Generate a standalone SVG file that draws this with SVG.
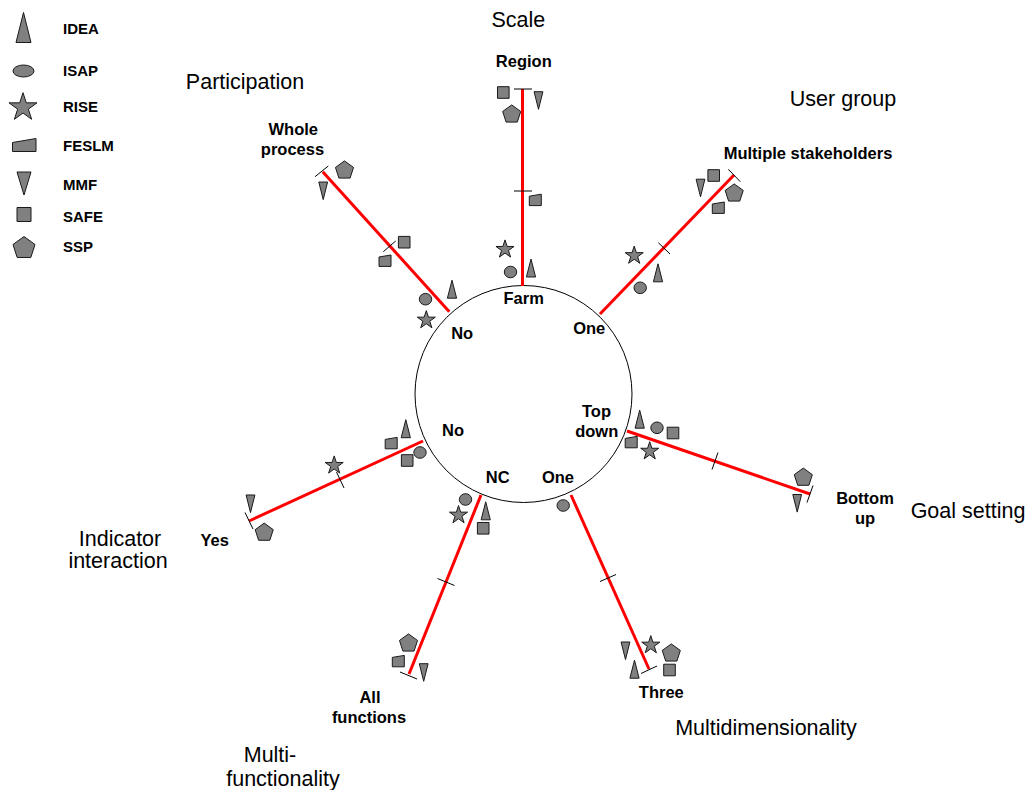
<svg xmlns="http://www.w3.org/2000/svg" width="1027" height="790" viewBox="0 0 1027 790">
  <style>
    .m { fill: #808080; stroke: #1a1a1a; stroke-width: 1; vector-effect: non-scaling-stroke; }
    .arm { stroke: #ff0000; stroke-width: 3; fill: none; }
    .tick { stroke: #000; stroke-width: 1; }
    .lab { font-family: "Liberation Sans", Arial, sans-serif; font-weight: bold; font-size: 16.5px; fill: #000; text-anchor: middle; }
    .cat { font-family: "Liberation Sans", Arial, sans-serif; font-size: 21.5px; fill: #000; text-anchor: middle; }
    .leg { font-family: "Liberation Sans", Arial, sans-serif; font-weight: bold; font-size: 15px; fill: #000; }
  </style>
  <defs>
    <polygon id="idea" class="m" points="0,-9 4.6,9 -4.6,9"/>
    <ellipse id="isap" class="m" cx="0" cy="0" rx="6.2" ry="5.8"/>
    <polygon id="rise" class="m" points="0,-8.6 2.134,-2.04 9.035,-2.04 3.452,2.02 5.584,8.59 0,4.53 -5.584,8.59 -3.452,2.02 -9.035,-2.04 -2.134,-2.04"/>
    <polygon id="feslm" class="m" points="-6,-3.8 6,-5.8 6,5.6 -6,5.6"/>
    <polygon id="mmf" class="m" points="-4.4,-8.8 4.4,-8.8 0,8.8"/>
    <rect id="safe" class="m" x="-5.8" y="-5.8" width="11.6" height="11.6"/>
    <polygon id="ssp" class="m" points="0,-8.6 9.035,-2.04 5.584,8.59 -5.584,8.59 -9.035,-2.04"/>
  </defs>

  <rect width="1027" height="790" fill="#fff"/>

  <!-- Legend -->
  <g id="legend">
    <g id="legend-idea">
      <polygon class="m" points="23.5,12.5 31,42.5 16,42.5"/>
      <text class="leg" x="63" y="34">IDEA</text>
    </g>
    <g id="legend-isap">
      <ellipse class="m" cx="23.5" cy="71" rx="10.5" ry="6"/>
      <text class="leg" x="63" y="76">ISAP</text>
    </g>
    <g id="legend-rise">
      <use href="#rise" transform="translate(23,106) scale(1.55)"/>
      <text class="leg" x="63" y="112">RISE</text>
    </g>
    <g id="legend-feslm">
      <polygon class="m" points="12.5,142.5 36,138.5 36,151.5 12.5,151.5"/>
      <text class="leg" x="63" y="151">FESLM</text>
    </g>
    <g id="legend-mmf">
      <polygon class="m" points="17,172 31,172 24,195"/>
      <text class="leg" x="63" y="190">MMF</text>
    </g>
    <g id="legend-safe">
      <rect class="m" x="17" y="207.5" width="14" height="14"/>
      <text class="leg" x="63" y="222">SAFE</text>
    </g>
    <g id="legend-ssp">
      <use href="#ssp" transform="translate(24,247) scale(1.22)"/>
      <text class="leg" x="63" y="252">SSP</text>
    </g>
  </g>

  <!-- Central circle -->
  <g id="hub">
    <circle cx="523.5" cy="394" r="108.5" fill="none" stroke="#000" stroke-width="1"/>
    <text class="lab" x="523.7" y="304">Farm</text>
    <text class="lab" x="589.2" y="334">One</text>
    <text class="lab" x="462.2" y="339">No</text>
    <text class="lab" x="596.5" y="417">Top</text>
    <text class="lab" x="596.7" y="437">down</text>
    <text class="lab" x="453" y="436">No</text>
    <text class="lab" x="497.7" y="483">NC</text>
    <text class="lab" x="558" y="483">One</text>
  </g>

  <!-- Connectors (axes with ticks) -->
  <g id="connectors">
    <line class="arm" x1="522.5" y1="286" x2="522.5" y2="89"/>
    <line class="tick" x1="514" y1="89" x2="532" y2="89"/>
    <line class="tick" x1="514" y1="191" x2="532" y2="191"/>

    <line class="arm" x1="600" y1="314" x2="734" y2="175"/>
    <line class="tick" x1="728.3" y1="169.3" x2="740.3" y2="181.7"/>
    <line class="tick" x1="658.3" y1="242.7" x2="670" y2="254"/>

    <line class="arm" x1="627" y1="431" x2="810" y2="494"/>
    <line class="tick" x1="712" y1="469.5" x2="718" y2="452.5"/>
    <line class="tick" x1="807" y1="502.5" x2="813" y2="485.5"/>

    <line class="arm" x1="571" y1="495" x2="649" y2="669"/>
    <line class="tick" x1="600" y1="581.5" x2="616" y2="574.5"/>
    <line class="tick" x1="641" y1="673.5" x2="657" y2="666"/>

    <line class="arm" x1="481" y1="495" x2="409" y2="674"/>
    <line class="tick" x1="437.5" y1="578.5" x2="454.5" y2="585.5"/>
    <line class="tick" x1="400" y1="672" x2="417" y2="679"/>

    <line class="arm" x1="423" y1="441" x2="249" y2="521"/>
    <line class="tick" x1="336.5" y1="472" x2="344" y2="488"/>
    <line class="tick" x1="245" y1="512.5" x2="253" y2="529"/>

    <line class="arm" x1="449.3" y1="311.7" x2="322.7" y2="171.7"/>
    <line class="tick" x1="383.3" y1="251.7" x2="395.7" y2="241"/>
    <line class="tick" x1="315" y1="176.7" x2="328.3" y2="166"/>
  </g>

  <!-- Scale -->
  <g id="scale">
    <text class="cat" x="518.3" y="26.5">Scale</text>
    <text class="lab" x="523.8" y="67">Region</text>
    <use href="#safe" x="503.3" y="92.5"/>
    <use href="#mmf" x="538.5" y="100.5"/>
    <use href="#ssp" x="511.7" y="113.5"/>
    <use href="#feslm" x="535.3" y="200"/>
    <use href="#rise" x="505" y="248.5"/>
    <use href="#isap" x="510.5" y="272"/>
    <use href="#idea" x="531" y="268"/>
  </g>

  <!-- User group -->
  <g id="user-group">
    <text class="cat" x="843" y="106">User group</text>
    <text class="lab" x="808" y="159">Multiple stakeholders</text>
    <use href="#safe" x="713.7" y="175.5"/>
    <use href="#mmf" x="700.5" y="188"/>
    <use href="#ssp" x="734.2" y="192.5"/>
    <use href="#feslm" x="718.3" y="207.8"/>
    <use href="#rise" x="634.2" y="254.7"/>
    <use href="#idea" x="658" y="272.8"/>
    <use href="#isap" x="640.2" y="287.8"/>
  </g>

  <!-- Goal setting -->
  <g id="goal-setting">
    <text class="cat" x="968" y="517.5">Goal setting</text>
    <text class="lab" x="865" y="504">Bottom</text>
    <text class="lab" x="865" y="524">up</text>
    <use href="#idea" x="639.7" y="419.2"/>
    <use href="#isap" x="657" y="427.8"/>
    <use href="#safe" x="673" y="433"/>
    <use href="#feslm" x="631.2" y="442.2"/>
    <use href="#rise" x="649.7" y="450.3"/>
    <use href="#ssp" x="803.3" y="476.7"/>
    <use href="#mmf" x="797.2" y="503.3"/>
  </g>

  <!-- Multidimensionality -->
  <g id="multidimensionality">
    <text class="cat" x="766" y="734.5">Multidimensionality</text>
    <text class="lab" x="661.3" y="698">Three</text>
    <use href="#isap" x="563.2" y="505.5"/>
    <use href="#mmf" x="625.5" y="650.8"/>
    <use href="#idea" x="634.5" y="669.2"/>
    <use href="#rise" x="650.8" y="644.2"/>
    <use href="#ssp" x="671.3" y="652.5"/>
    <use href="#safe" x="669.5" y="670"/>
  </g>

  <!-- Multi-functionality -->
  <g id="multi-functionality">
    <text class="cat" x="270" y="762">Multi-</text>
    <text class="cat" x="283" y="785.5">functionality</text>
    <text class="lab" x="370" y="703">All</text>
    <text class="lab" x="369" y="723">functions</text>
    <use href="#isap" x="465.5" y="499.5"/>
    <use href="#rise" x="458.5" y="514.2"/>
    <use href="#idea" x="485.7" y="510.8"/>
    <use href="#safe" x="483.2" y="528.3"/>
    <use href="#ssp" x="408.5" y="642.5"/>
    <use href="#feslm" x="398.3" y="661.2"/>
    <use href="#mmf" x="423.7" y="672.5"/>
  </g>

  <!-- Indicator interaction -->
  <g id="indicator-interaction">
    <text class="cat" x="120" y="545.5">Indicator</text>
    <text class="cat" x="118" y="568">interaction</text>
    <text class="lab" x="214.7" y="546">Yes</text>
    <use href="#idea" x="405.8" y="428.7"/>
    <use href="#feslm" x="391.2" y="443.2"/>
    <use href="#isap" x="420" y="452.5"/>
    <use href="#safe" x="407.2" y="460.5"/>
    <use href="#rise" x="334.2" y="464.5"/>
    <use href="#mmf" x="250.5" y="503.8"/>
    <use href="#ssp" x="264.2" y="531.7"/>
  </g>

  <!-- Participation -->
  <g id="participation">
    <text class="cat" x="245" y="88.5">Participation</text>
    <text class="lab" x="293.3" y="135">Whole</text>
    <text class="lab" x="292.5" y="155">process</text>
    <use href="#ssp" x="344.5" y="169.5"/>
    <use href="#mmf" x="323.2" y="190.8"/>
    <use href="#safe" x="404.2" y="242.2"/>
    <use href="#feslm" x="385" y="260.8"/>
    <use href="#idea" x="452" y="289.2"/>
    <use href="#isap" x="425.5" y="299.2"/>
    <use href="#rise" x="426.3" y="319.2"/>
  </g>
</svg>
